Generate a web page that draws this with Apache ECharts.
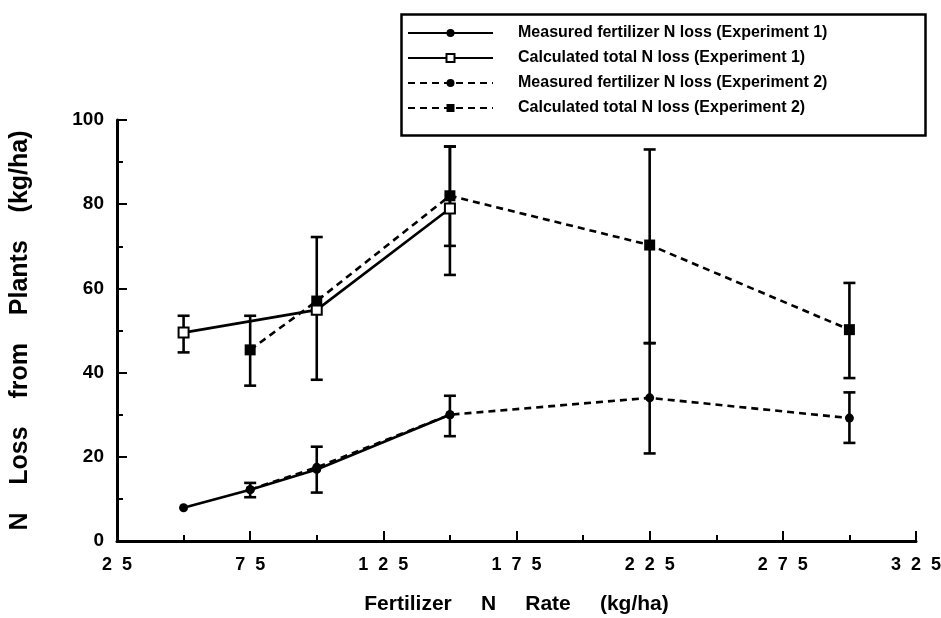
<!DOCTYPE html>
<html>
<head>
<meta charset="utf-8">
<script src="https://cdn.jsdelivr.net/npm/echarts@6/dist/echarts.min.js"></script>
<style>
html, body { margin: 0; padding: 0; background: #fff; }
#chart { width: 941px; height: 618px; }
</style>
</head>
<body>
<div id="chart"></div>
<script>
// Experiment 1
const exp1MeasuredRates = [50, 75, 100, 150]
const exp1Measured = [7.9, 12.2, 17.0, 30.0]
const exp1MeasuredLow = [null, null, null, null]
const exp1MeasuredHigh = [null, null, null, null]
const exp1CalculatedRates = [50, 100, 150]
const exp1Calculated = [49.5, 54.9, 79.0]
const exp1CalculatedLow = [44.8, 38.3, 63.2]
const exp1CalculatedHigh = [53.5, 72.2, 93.7]

// Experiment 2
const exp2Rates = [75, 100, 150, 225, 300]
const exp2Measured = [12.2, 17.5, 30.0, 34.0, 29.2]
const exp2MeasuredLow = [10.4, 11.5, 24.9, 20.8, 23.3]
const exp2MeasuredHigh = [13.8, 22.4, 34.5, 47.0, 35.3]
const exp2Calculated = [45.4, 57.0, 82.0, 70.3, 50.2]
const exp2CalculatedLow = [36.9, null, 70.1, 47.0, 38.7]
const exp2CalculatedHigh = [53.5, null, 93.7, 93.0, 61.3]

const seriesNames = [
    'Measured fertilizer N loss (Experiment 1)',
    'Calculated total N loss (Experiment 1)',
    'Measured fertilizer N loss (Experiment 2)',
    'Calculated total N loss (Experiment 2)'
]

const FONT = '"Liberation Sans", Arial, sans-serif'

function pairs(xs, ys) {
    return xs.map((x, i) => [x, ys[i]])
}

function errorBars(xs, low, high) {
    const data = xs.map((x, i) => [x, low[i], high[i]]).filter(d => d[1] !== null)
    return {
        type: 'custom',
        silent: true,
        z: 1,
        data: data,
        encode: { x: 0, y: [1, 2] },
        renderItem: (params, api) => {
            const lo = api.coord([api.value(0), api.value(1)])
            const hi = api.coord([api.value(0), api.value(2)])
            const cap = 6
            const style = { stroke: '#000', lineWidth: 2.6 }
            return {
                type: 'group',
                children: [
                    { type: 'line', shape: { x1: lo[0], y1: lo[1], x2: hi[0], y2: hi[1] }, style: style },
                    { type: 'line', shape: { x1: lo[0] - cap, y1: lo[1], x2: lo[0] + cap, y2: lo[1] }, style: style },
                    { type: 'line', shape: { x1: hi[0] - cap, y1: hi[1], x2: hi[0] + cap, y2: hi[1] }, style: style }
                ]
            }
        }
    }
}

function lineSeries(name, xs, ys, dashed, symbol, size, fill) {
    return {
        name: name,
        type: 'line',
        data: pairs(xs, ys),
        symbol: symbol,
        symbolSize: size,
        showAllSymbol: true,
        z: 3,
        lineStyle: {
            color: '#000',
            width: 2.6,
            type: dashed ? [7, 5] : 'solid'
        },
        itemStyle: {
            color: fill,
            borderColor: '#000',
            borderWidth: fill === '#fff' ? 2 : 0
        },
        emphasis: { disabled: true }
    }
}

const chart = echarts.init(document.getElementById('chart'), null, { renderer: 'canvas' })

const options = {
    animation: false,
    backgroundColor: '#fff',
    grid: {
        left: 117,
        right: 25,
        top: 120,
        bottom: 77,
        containLabel: false,
        outerBoundsMode: 'none'
    },
    legend: {
        orient: 'vertical',
        left: 407,
        top: 25,
        padding: 0,
        itemWidth: 85,
        itemHeight: 10,
        itemGap: 9,
        selectedMode: false,
        data: seriesNames,
        textStyle: {
            fontFamily: FONT,
            fontWeight: 'bold',
            fontSize: 16,
            lineHeight: 16,
            color: '#000',
            padding: [0, 0, 0, 20]
        }
    },
    graphic: [
        {
            type: 'rect',
            left: 399,
            top: 12,
            shape: { width: 524, height: 121 },
            style: { fill: 'none', stroke: '#000', lineWidth: 2.5 },
            z: 10
        }
    ],
    xAxis: {
        type: 'value',
        min: 25,
        max: 325,
        interval: 50,
        name: 'Fertilizer     N     Rate     (kg/ha)',
        nameLocation: 'middle',
        nameGap: 53,
        nameTextStyle: {
            fontFamily: FONT,
            fontWeight: 'bold',
            fontSize: 21,
            color: '#000'
        },
        axisLine: { lineStyle: { color: '#000', width: 3 } },
        axisTick: { inside: true, length: 10, lineStyle: { color: '#000', width: 2 } },
        minorTick: { show: true, splitNumber: 2, length: 6, lineStyle: { color: '#000', width: 2 } },
        splitLine: { show: false },
        axisLabel: {
            margin: 15,
            fontFamily: FONT,
            fontWeight: 'bold',
            fontSize: 18,
            color: '#000',
            formatter: (v) => String(v).split('').join('  ')
        }
    },
    yAxis: {
        type: 'value',
        min: 0,
        max: 100,
        interval: 20,
        name: 'N    Loss    from    Plants    (kg/ha)',
        nameLocation: 'middle',
        nameGap: 84,
        nameTextStyle: {
            fontFamily: FONT,
            fontWeight: 'bold',
            fontSize: 25,
            color: '#000'
        },
        axisLine: { show: true, lineStyle: { color: '#000', width: 3 } },
        axisTick: { show: true, inside: true, length: 10, lineStyle: { color: '#000', width: 2 } },
        minorTick: { show: true, splitNumber: 2, length: 6, lineStyle: { color: '#000', width: 2 } },
        splitLine: { show: false },
        axisLabel: {
            margin: 13,
            fontFamily: FONT,
            fontWeight: 'bold',
            fontSize: 19,
            color: '#000'
        }
    },
    series: [
        lineSeries(seriesNames[0], exp1MeasuredRates, exp1Measured, false, 'circle', 9, '#000'),
        lineSeries(seriesNames[1], exp1CalculatedRates, exp1Calculated, false, 'rect', 10, '#fff'),
        lineSeries(seriesNames[2], exp2Rates, exp2Measured, true, 'circle', 9, '#000'),
        lineSeries(seriesNames[3], exp2Rates, exp2Calculated, true, 'rect', 11, '#000'),
        errorBars(exp1MeasuredRates, exp1MeasuredLow, exp1MeasuredHigh),
        errorBars(exp1CalculatedRates, exp1CalculatedLow, exp1CalculatedHigh),
        errorBars(exp2Rates, exp2MeasuredLow, exp2MeasuredHigh),
        errorBars(exp2Rates, exp2CalculatedLow, exp2CalculatedHigh)
    ]
}

chart.setOption(options)
</script>
</body>
</html>
